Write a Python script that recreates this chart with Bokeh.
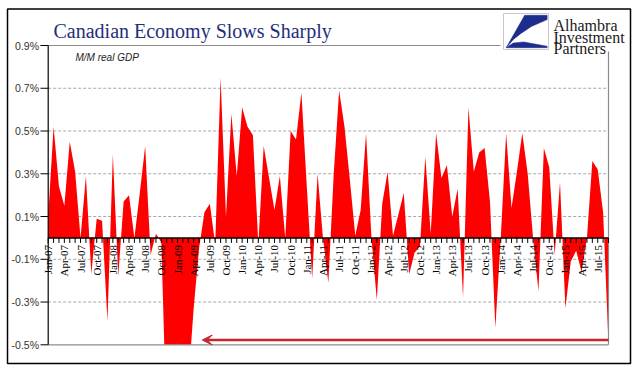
import numpy as np
import pandas as pd
from bokeh.plotting import figure
from bokeh.models import Range1d, Arrow, VeeHead
from bokeh.core.properties import value
from bokeh.embed import file_html
from bokeh.resources import INLINE

# ---------------- data ----------------
months = [d.strftime("%b-%y") for d in pd.date_range("2007-01-01", periods=105, freq="MS")]
gdp_mm = [
    0.10, 0.52, 0.24, 0.15, 0.45, 0.31, 0.00, 0.29, -0.17, 0.09, 0.08, -0.39,   # 2007
    0.39, -0.18, 0.17, 0.20, 0.00, 0.21, 0.43, -0.08, 0.02, -0.02, -0.90, -0.85,  # 2008
    -0.49, -0.80, -0.68, -0.33, -0.05, 0.12, 0.16, -0.03, 0.75, 0.10, 0.58, 0.29,  # 2009
    0.61, 0.52, 0.48, -0.03, 0.43, 0.28, 0.13, 0.29, 0.00, 0.50, 0.46, 0.68,      # 2010
    0.24, -0.19, 0.30, 0.00, -0.21, 0.30, 0.69, 0.52, 0.27, 0.01, 0.13, 0.49,     # 2011
    0.00, -0.29, 0.16, 0.31, 0.01, 0.11, 0.21, -0.17, -0.07, -0.04, 0.38, 0.02,   # 2012
    0.49, 0.28, 0.34, 0.10, 0.23, -0.28, 0.61, 0.31, 0.40, 0.42, 0.17, -0.42,     # 2013
    0.00, 0.49, 0.14, 0.31, 0.49, 0.30, 0.00, -0.25, 0.42, 0.33, -0.08, 0.26,     # 2014
    -0.33, -0.11, -0.06, -0.16, 0.00, 0.36, 0.32, 0.12, -0.50,                    # 2015
]
y_ticks = [-0.5, -0.3, -0.1, 0.1, 0.3, 0.5, 0.7, 0.9]
y_tick_labels = [f"{t:.1f}%" for t in y_ticks]
x_label_step = 3
title_text = "Canadian Economy Slows Sharply"
subtitle_text = "M/M real GDP"
logo_lines = ["Alhambra", "Investment", "Partners"]
arrow_to_index = 28.6   # arrow points back to mid-2009

# ---------------- layout (canvas pixels) ----------------
W, H = 641, 375
PX_LEFT, PX_RIGHT, PX_TOP, PX_BOTTOM = 47.7, 608.0, 45.0, 344.3
Y_MIN, Y_MAX = y_ticks[0], y_ticks[-1]
n = len(gdp_mm)
idx = list(range(n))
kx = (PX_RIGHT - PX_LEFT) / (n - 1)
ky = (PX_BOTTOM - PX_TOP) / (Y_MAX - Y_MIN)


def dx(px):
    return (px - PX_LEFT) / kx


def dy(py):
    return Y_MAX - (py - PX_TOP) / ky


p = figure(width=W, height=H, x_range=Range1d(dx(0), dx(W)), y_range=Range1d(dy(H), dy(0)),
           x_axis_type=None, y_axis_type=None, toolbar_location=None,
           output_backend="svg", min_border=0, title=None)
p.outline_line_color = None
p.background_fill_color = "white"
p.border_fill_color = "white"
p.grid.visible = False

# gridlines
inner = y_ticks[1:-1]
p.multi_line(xs=[[0, n - 1]] * len(inner), ys=[[t, t] for t in inner],
             line_color="#a8a8a8", line_width=1, line_dash="3 2")

# area
p.varea(x=idx, y1=[0] * n, y2=gdp_mm, fill_color="#ff0000")
# clip below axis minimum
p.quad(left=[0], right=[n - 1], bottom=[dy(H)], top=[Y_MIN], fill_color="white", line_color=None)

# plot-area border
border = "#8c8c8c"
p.multi_line(xs=[[dx(40), n - 1], [0, n - 1], [n - 1, n - 1]],
             ys=[[Y_MAX, Y_MAX], [Y_MIN, Y_MIN], [Y_MIN, Y_MAX]],
             line_color=border, line_width=1.2)

# y axis
p.segment(x0=[0], y0=[Y_MIN], x1=[0], y1=[Y_MAX], line_color="black", line_width=1.2)
p.segment(x0=[dx(40)] * len(y_ticks), y0=y_ticks, x1=[0] * len(y_ticks), y1=y_ticks,
          line_color="black", line_width=1)
p.text(x=[dx(38.5)] * len(y_ticks), y=y_ticks, text=y_tick_labels, text_align="right",
       text_baseline="middle", text_font=value("Liberation Sans"), text_font_size="10.5px",
       text_color="#333333")

# x axis at zero
p.segment(x0=[0], y0=[0], x1=[n - 1], y1=[0], line_color="black", line_width=1.5)
tick_len = 5 / ky
p.segment(x0=idx, y0=[0] * n, x1=idx, y1=[-tick_len] * n, line_color="black", line_width=1)
lab_idx = idx[::x_label_step]
p.text(x=lab_idx, y=[-7 / ky] * len(lab_idx), text=months[::x_label_step], angle=np.pi / 2,
       text_align="right", text_baseline="middle", text_font=value("Liberation Serif"),
       text_font_size="11px", text_color="black")

# arrow
arrow_y = dy(339.5)
p.add_layout(Arrow(end=VeeHead(size=10, line_color="#c1272d", fill_color="#c1272d"),
                   x_start=n - 1, y_start=arrow_y, x_end=arrow_to_index, y_end=arrow_y,
                   line_color="#c1272d", line_width=2.5))

# titles
p.text(x=[dx(53)], y=[dy(30)], text=[title_text], text_align="left", text_baseline="alphabetic",
       text_font=value("Liberation Serif"), text_font_size="20px", text_color="#1f2f7a")
p.text(x=[dx(75)], y=[dy(57)], text=[subtitle_text], text_align="left", text_baseline="middle",
       text_font=value("Liberation Sans"), text_font_style="italic", text_font_size="10px",
       text_color="#222222")

# logo
p.quad(left=[dx(500)], right=[dx(628)], top=[dy(10)], bottom=[dy(51)], fill_color="white", line_color=None)
bx0, bx1, by0, by1 = 503, 548, 13, 49
p.quad(left=[dx(bx0)], right=[dx(bx1)], top=[dy(by0)], bottom=[dy(by1)], fill_color="white",
       line_color="#c8c8c8", line_width=1)
shape_a = [(0.47, 0.05), (0.97, 0.05), (0.97, 0.17), (0.62, 0.36), (0.38, 0.56), (0.22, 0.72), (0.06, 0.95)]
shape_b = [(0.06, 0.95), (0.22, 0.82), (0.45, 0.79), (0.70, 0.85), (0.97, 0.91), (0.97, 0.95)]
for shp in (shape_a, shape_b):
    p.patch(x=[dx(bx0 + u * (bx1 - bx0)) for u, v in shp], y=[dy(by0 + v * (by1 - by0)) for u, v in shp],
            fill_color="#1c2d8c", line_color="#1c2d8c", line_width=0.5)
p.text(x=[dx(553)] * 3, y=[dy(25), dy(36.6), dy(48.2)], text=logo_lines, text_align="left",
       text_baseline="alphabetic", text_font=value("Liberation Serif"), text_font_size="16px",
       text_color="#1a1a1a")

# outer frame
p.quad(left=[dx(7)], right=[dx(630)], top=[dy(8.5)], bottom=[dy(363)], fill_color=None,
       line_color="black", line_width=1.5)

open("out.html", "w").write(file_html(p, INLINE))
